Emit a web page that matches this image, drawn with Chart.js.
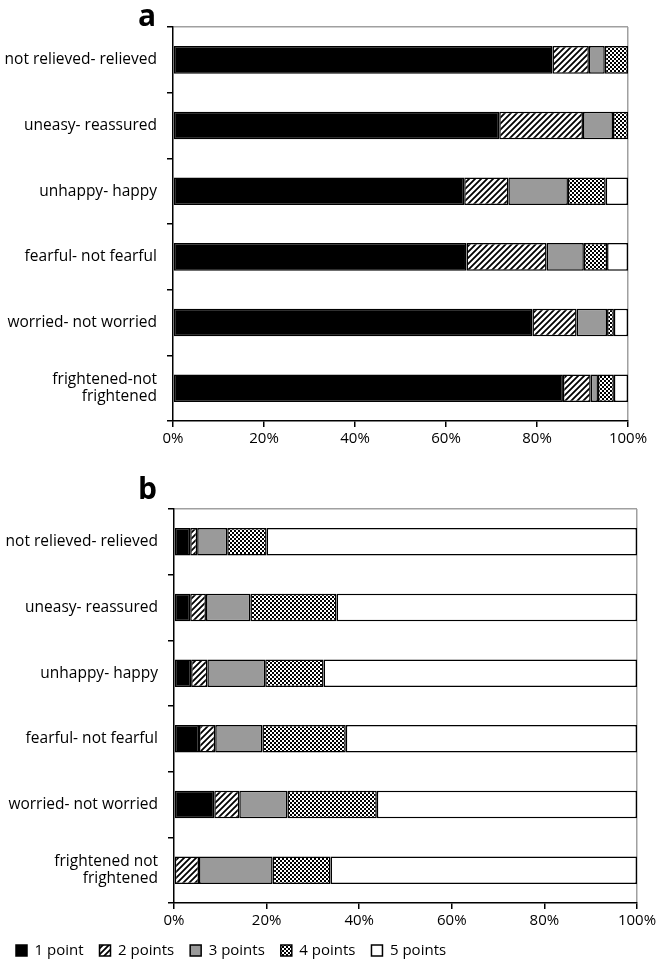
<!DOCTYPE html>
<html>
<head>
<meta charset="utf-8">
<script src="https://cdn.jsdelivr.net/npm/chart.js@4/dist/chart.umd.min.js"></script>
<style>
  html, body { margin: 0; padding: 0; background: #fff; overflow: hidden; }
  #wrap { position: relative; width: 662px; height: 963px; }
  canvas { display: block; position: absolute; left: 0; }
  .panel { position: absolute; font-family: "Open Sans", "DejaVu Sans", sans-serif; font-weight: bold; font-size: 30px; line-height: 30px; color: #000; }
</style>
</head>
<body>
<div id="wrap">
  <canvas id="ca" width="662" height="460" style="top:0"></canvas>
  <canvas id="cb" width="662" height="508" style="top:460px"></canvas>
  <div class="panel" style="left:138px; top:0px;">a</div>
  <div class="panel" style="left:138px; top:473px;">b</div>
</div>
<script>
// ---------- data ----------
const categoriesA = ["not relieved- relieved", "uneasy- reassured", "unhappy- happy", "fearful- not fearful", "worried- not worried", ["frightened-not", "frightened"]];
const categoriesB = ["not relieved- relieved", "uneasy- reassured", "unhappy- happy", "fearful- not fearful", "worried- not worried", ["frightened not", "frightened"]];
const seriesNames = ["1 point", "2 points", "3 points", "4 points", "5 points"];

// panel a (percent of respondents)
const a1 = [83.4, 71.7, 64.0, 64.5, 79.0, 85.7];
const a2 = [8.0, 18.4, 9.7, 17.6, 9.7, 6.1];
const a3 = [3.5, 6.6, 13.1, 8.2, 6.7, 1.6];
const a4 = [5.1, 3.3, 8.3, 5.1, 1.5, 3.5];
const a5 = [0.0, 0.0, 4.9, 4.6, 3.1, 3.1];

// panel b
const b1 = [3.5, 3.5, 3.7, 5.4, 8.7, 0.0];
const b2 = [1.5, 3.4, 3.5, 3.5, 5.4, 5.4];
const b3 = [6.5, 9.6, 12.5, 10.2, 10.4, 15.9];
const b4 = [8.5, 18.6, 12.6, 18.0, 19.3, 12.5];
const b5 = [80.0, 64.9, 67.7, 62.9, 56.2, 66.2];

const xTicks = [0, 20, 40, 60, 80, 100];

// ---------- fills ----------
function hatchPattern() {
  const c = document.createElement('canvas');
  c.width = 6; c.height = 6;
  const g = c.getContext('2d');
  g.fillStyle = '#fff'; g.fillRect(0, 0, 6, 6);
  g.strokeStyle = '#000'; g.lineWidth = 1.8;
  g.beginPath();
  g.moveTo(-1, 7); g.lineTo(7, -1);
  g.moveTo(-4, 4); g.lineTo(4, -4);
  g.moveTo(2, 10); g.lineTo(10, 2);
  g.stroke();
  return g.createPattern(c, 'repeat');
}
function checkerPattern() {
  const c = document.createElement('canvas');
  c.width = 4; c.height = 4;
  const g = c.getContext('2d');
  g.fillStyle = '#fff'; g.fillRect(0, 0, 4, 4);
  g.fillStyle = '#000';
  g.fillRect(0, 0, 2, 2); g.fillRect(2, 2, 2, 2);
  return g.createPattern(c, 'repeat');
}
const fills = ['#000000', null, '#9a9a9a', null, '#ffffff'];

function makeDatasets(arrays) {
  const f = [fills[0], hatchPattern(), fills[2], checkerPattern(), fills[4]];
  return arrays.map((d, i) => ({
    label: seriesNames[i],
    data: d,
    backgroundColor: f[i],
    borderColor: '#000',
    borderWidth: 1.5,
    borderSkipped: false,
    barPercentage: 0.42,
    categoryPercentage: 1.0
  }));
}

const FONT = "'Open Sans', 'DejaVu Sans', sans-serif";

function makeOptions(yWidth, padding, xHeight, showLegend) {
  return {
    indexAxis: 'y',
    responsive: false,
    animation: false,
    events: [],
    layout: { padding: padding },
    plugins: {
      tooltip: { enabled: false },
      legend: {
        display: showLegend,
        position: 'bottom',
        align: 'start',
        labels: {
          boxWidth: 11, boxHeight: 11, padding: 16,
          color: '#000',
          font: { family: FONT, size: 15 }
        }
      }
    },
    scales: {
      x: {
        stacked: true, min: 0, max: 100,
        afterFit: s => { s.height = xHeight; },
        afterBuildTicks: s => { s.ticks = xTicks.map(v => ({ value: v })); },
        ticks: { callback: v => v + '%', color: '#000', padding: 3, maxRotation: 0,
                 font: { family: FONT, size: 15 } },
        grid: {
          drawOnChartArea: true,
          color: c => (c.tick && c.tick.value === 100) ? '#a0a0a0' : 'rgba(0,0,0,0)',
          lineWidth: 1.5,
          tickColor: '#000', tickLength: 6, tickWidth: 1.5
        },
        border: { display: true, color: '#000', width: 1.5 }
      },
      y: {
        stacked: true,
        afterFit: s => { s.width = yWidth; },
        ticks: { color: '#000', padding: 10, font: { family: FONT, size: 15.5, lineHeight: 1.1 } },
        grid: {
          offset: true,
          drawOnChartArea: true,
          color: c => (c.index === 0) ? '#a0a0a0' : 'rgba(0,0,0,0)',
          lineWidth: 1.5,
          tickColor: '#000', tickLength: 6, tickWidth: 1.5
        },
        border: { display: true, color: '#000', width: 1.5 }
      }
    }
  };
}

new Chart(document.getElementById('ca'), {
  type: 'bar',
  data: { labels: categoriesA, datasets: makeDatasets([a1, a2, a3, a4, a5]) },
  options: makeOptions(173, { top: 25, right: 34, left: 0, bottom: 0 }, 39, false)
});

new Chart(document.getElementById('cb'), {
  type: 'bar',
  data: { labels: categoriesB, datasets: makeDatasets([b1, b2, b3, b4, b5]) },
  options: makeOptions(174, { top: 49, right: 25, left: 0, bottom: 0 }, 24, true)
});
</script>
</body>
</html>
